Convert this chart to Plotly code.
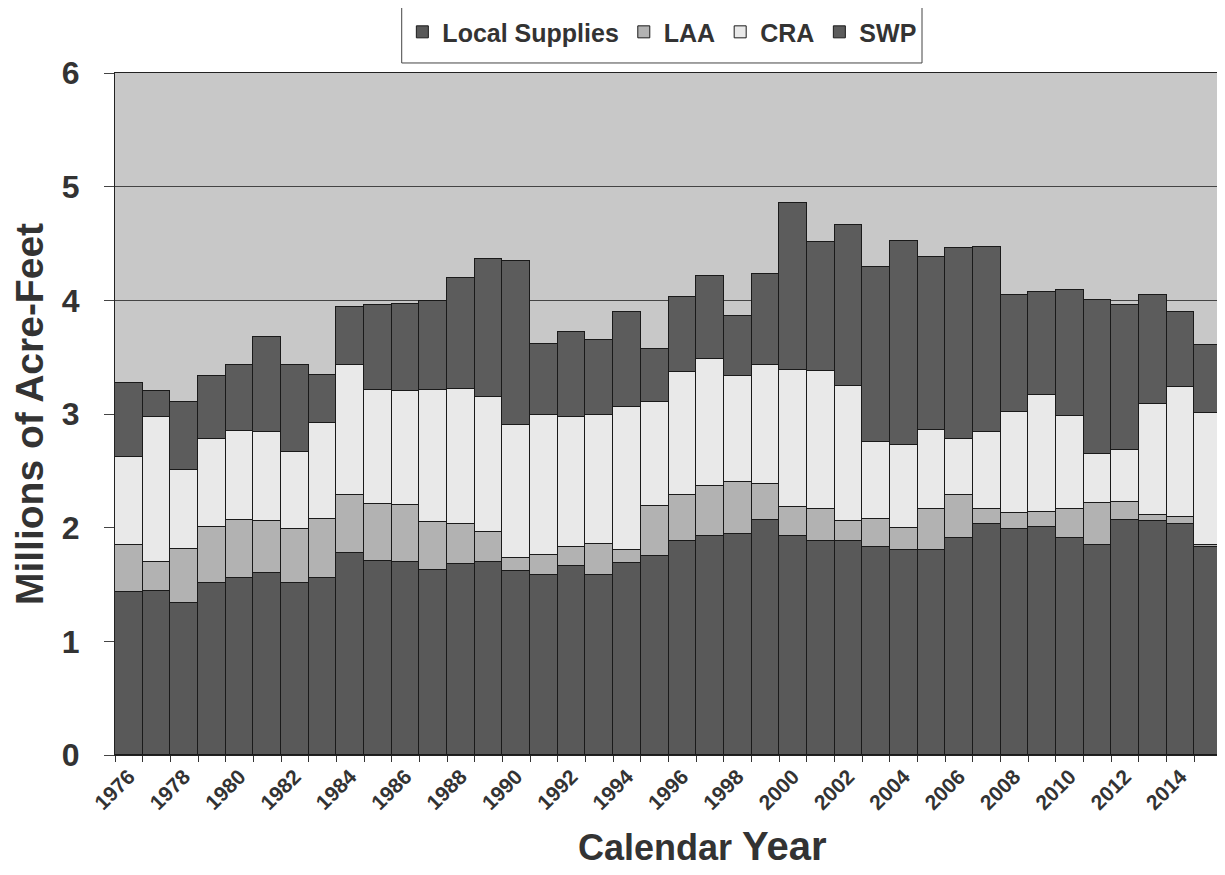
import plotly.graph_objects as go

years = list(range(1976, 2016))

local_supplies = [1.43, 1.44, 1.34, 1.51, 1.56, 1.60, 1.51, 1.56, 1.78, 1.71,
                  1.70, 1.63, 1.68, 1.70, 1.62, 1.58, 1.66, 1.58, 1.69, 1.75,
                  1.88, 1.93, 1.94, 2.07, 1.93, 1.88, 1.88, 1.83, 1.80, 1.80,
                  1.91, 2.03, 1.99, 2.01, 1.91, 1.85, 2.07, 2.06, 2.03, 1.83]
laa = [0.42, 0.26, 0.47, 0.50, 0.51, 0.46, 0.48, 0.52, 0.51, 0.50,
       0.50, 0.42, 0.35, 0.26, 0.11, 0.18, 0.17, 0.28, 0.11, 0.44,
       0.41, 0.44, 0.46, 0.31, 0.25, 0.28, 0.18, 0.25, 0.20, 0.36,
       0.38, 0.13, 0.14, 0.13, 0.25, 0.37, 0.16, 0.05, 0.06, 0.02]
cra = [0.77, 1.27, 0.70, 0.77, 0.78, 0.78, 0.68, 0.84, 1.14, 1.00,
       1.00, 1.16, 1.19, 1.19, 1.17, 1.23, 1.14, 1.13, 1.26, 0.92,
       1.08, 1.11, 0.93, 1.05, 1.21, 1.22, 1.19, 0.67, 0.73, 0.70,
       0.49, 0.68, 0.89, 1.03, 0.82, 0.43, 0.45, 0.98, 1.15, 1.16]
swp = [0.65, 0.23, 0.60, 0.55, 0.58, 0.84, 0.76, 0.42, 0.51, 0.75,
       0.77, 0.78, 0.98, 1.21, 1.45, 0.63, 0.75, 0.66, 0.84, 0.46,
       0.66, 0.73, 0.53, 0.80, 1.47, 1.13, 1.41, 1.54, 1.79, 1.52,
       1.68, 1.63, 1.03, 0.90, 1.11, 1.35, 1.28, 0.96, 0.66, 0.60]

series = [
    ("Local Supplies", local_supplies, "#595959"),
    ("LAA", laa, "#b2b2b2"),
    ("CRA", cra, "#e9e9e9"),
    ("SWP", swp, "#5c5c5c"),
]

y_ticks = [0, 1, 2, 3, 4, 5, 6]
x_label_years = list(range(1976, 2015, 2))

FONT = "Arial, Liberation Sans, sans-serif"
TXT = "#333333"

# page has an 8px body margin; figure sized so the plot sits where the reference has it
W, H = 1217, 867
ML, MT, MR = 107, 65, 3
PLOT_H = 682
MB = H - MT - PLOT_H

fig = go.Figure()
for name, vals, col in series:
    fig.add_trace(go.Bar(
        x=years, y=vals, name=name,
        marker=dict(color=col, line=dict(color="#1a1a1a", width=1)),
    ))

fig.update_layout(
    width=W, height=H,
    barmode="stack", bargap=0,
    paper_bgcolor="white", plot_bgcolor="#c8c8c8",
    margin=dict(l=ML, r=MR, t=MT, b=MB, autoexpand=False),
    font=dict(family=FONT, color=TXT),
    showlegend=True,
    legend=dict(
        orientation="h", x=0.494, xanchor="center", y=1.06, yanchor="middle",
        font=dict(family=FONT, size=25, color=TXT, weight="bold"),
        bgcolor="rgba(0,0,0,0)", borderwidth=0, traceorder="normal",
    ),
    shapes=[dict(type="rect", xref="paper", yref="paper",
                 x0=0.259, x1=0.729, y0=1.0147, y1=1.104,
                 line=dict(color="#444444", width=1), fillcolor="rgba(0,0,0,0)",
                 layer="below")],
    annotations=[dict(
        text="<span style='font-size:36px'>Calendar</span> <span style='font-size:40px'>Year</span>",
        xref="paper", yref="paper", x=0.531, y=-0.134,
        xanchor="center", yanchor="middle", showarrow=False,
        font=dict(family=FONT, size=36, color=TXT, weight="bold"),
    )],
)

fig.update_xaxes(
    range=[1975.5, 2015.5],
    tickmode="array", tickvals=x_label_years, ticktext=[str(y) for y in x_label_years],
    tickangle=-45, ticks="",
    tickfont=dict(family=FONT, size=21, color=TXT, weight="bold"),
    minor=dict(tickmode="linear", tick0=1975.5, dtick=1, ticks="outside",
               ticklen=6, tickcolor="#333333", showgrid=False),
    showline=True, linecolor="#222222", linewidth=1, mirror=True,
    showgrid=False, zeroline=False,
)

fig.update_yaxes(
    range=[0, 6], tickmode="array", tickvals=y_ticks,
    ticks="outside", ticklen=10, tickcolor="#444444",
    ticklabelstandoff=18,
    tickfont=dict(family=FONT, size=32, color=TXT, weight="bold"),
    showline=True, linecolor="#222222", linewidth=1, mirror=True,
    showgrid=True, gridcolor="#444444", gridwidth=1, zeroline=False,
    title=dict(text="Millions of Acre-Feet", standoff=20,
               font=dict(family=FONT, size=39, color=TXT, weight="bold")),
)

fig.write_html("out.html")
